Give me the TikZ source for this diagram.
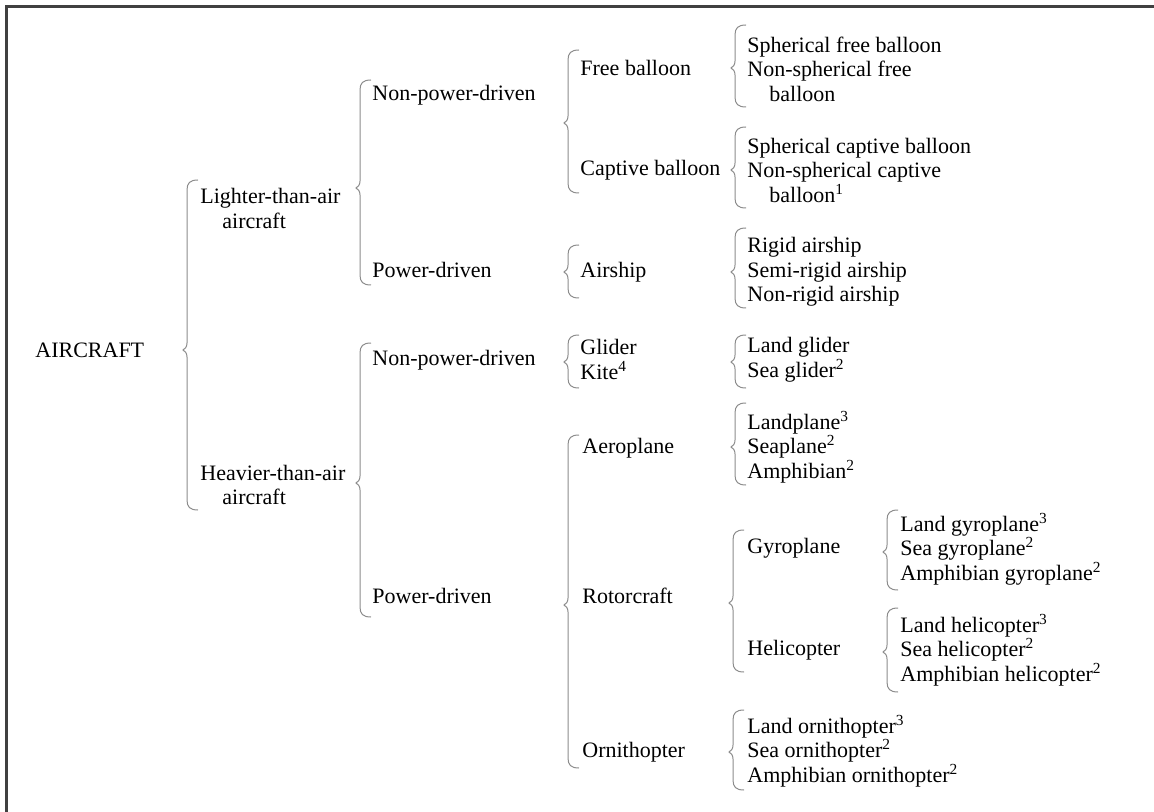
\documentclass[tikz,border=0pt]{standalone}
\usepackage{fontspec}
\setmainfont{Liberation Serif}
\usetikzlibrary{positioning}

% curly brace: x of stem, top, tip, bottom (pixel units, y downwards)
\newcommand{\brc}[4]{%
  \draw[bracket] (#1+11,#2) .. controls (#1+3,#2) and (#1,#2+3) .. (#1,#2+10)
    -- (#1,#3-7) .. controls (#1,#3-3) and (#1-2,#3-1) .. (#1-4,#3)
    .. controls (#1-2,#3+1) and (#1,#3+3) .. (#1,#3+7)
    -- (#1,#4-10) .. controls (#1,#4-3) and (#1+3,#4) .. (#1+11,#4);}

\begin{document}
\begin{tikzpicture}[
    x=0.5pt, y=-0.5pt,
    group/.style={
      anchor=west,
      inner sep=0pt,
      align=left,
      font=\fontsize{11}{12.25}\selectfont
    },
    item/.style={
      group,
      text height=7.5pt,
      text depth=2.4pt
    },
    bracket/.style={
      draw=black!45,
      line width=0.5pt
    },
    frame/.style={
      draw=black!75,
      line width=1.5pt
    }
  ]
    \useasboundingbox (0,0) rectangle (1154,812);

    % --- Frame (only top and left edges show)
    \draw[frame] (6.5,812) -- (6.5,6.5) -- (1154,6.5);

    % --- Root and first level
    \node[item] (aircraft) at (35,352) {AIRCRAFT};
    \node[group] (lighter) at (200,208.5) {Lighter-than-air\\\hspace*{1em}aircraft};
    \node[group] (heavier) at (200,485) {Heavier-than-air\\\hspace*{1em}aircraft};

    % --- Second level
    \node[item] (lnonpow) at (372,95) {Non-power-driven};
    \node[item] (lpow) at (372,272) {Power-driven};
    \node[item] (hnonpow) at (372,360) {Non-power-driven};
    \node[item] (hpow) at (372,598) {Power-driven};

    % --- Third level
    \node[item] (free) at (580,70) {Free balloon};
    \node[item] (captive) at (580,170) {Captive balloon};
    \node[item] (airship) at (580,272) {Airship};
    \node[group] (glider) at (580,359.5) {Glider\\Kite\textsuperscript{4}};
    \node[item] (aeroplane) at (582,448) {Aeroplane};
    \node[item] (rotorcraft) at (582,598) {Rotorcraft};
    \node[item] (ornithopter) at (582,752) {Ornithopter};

    % --- Leaves
    \node[group] (freekinds) at (747,69) {Spherical free balloon\\Non-spherical free\\\hspace*{1em}balloon};
    \node[group] (captkinds) at (747,170) {Spherical captive balloon\\Non-spherical captive\\\hspace*{1em}balloon\textsuperscript{1}};
    \node[group] (shipkinds) at (747,272) {Rigid airship\\Semi-rigid airship\\Non-rigid airship};
    \node[group] (glidkinds) at (747,359.5) {Land glider\\Sea glider\textsuperscript{2}};
    \node[group] (aerokinds) at (747,447) {Landplane\textsuperscript{3}\\Seaplane\textsuperscript{2}\\Amphibian\textsuperscript{2}};
    \node[item] (gyroplane) at (747,548) {Gyroplane};
    \node[item] (helicopter) at (747,650) {Helicopter};
    \node[group] (ornikinds) at (747,751) {Land ornithopter\textsuperscript{3}\\Sea ornithopter\textsuperscript{2}\\Amphibian ornithopter\textsuperscript{2}};
    \node[group] (gyrokinds) at (900,549) {Land gyroplane\textsuperscript{3}\\Sea gyroplane\textsuperscript{2}\\Amphibian gyroplane\textsuperscript{2}};
    \node[group] (helikinds) at (900,650) {Land helicopter\textsuperscript{3}\\Sea helicopter\textsuperscript{2}\\Amphibian helicopter\textsuperscript{2}};

    % --- Braces
    \brc{187}{180}{350}{510}
    \brc{360}{80}{188}{285}
    \brc{360}{343}{483}{617}
    \brc{568}{50}{123}{193}
    \brc{568}{245}{272}{298}
    \brc{568}{335}{362}{388}
    \brc{568}{435}{605}{768}
    \brc{735}{25}{68}{107}
    \brc{735}{127}{170}{208}
    \brc{735}{228}{272}{308}
    \brc{735}{335}{362}{388}
    \brc{735}{403}{447}{485}
    \brc{733}{530}{603}{672}
    \brc{733}{710}{752}{790}
    \brc{887}{510}{552}{590}
    \brc{887}{608}{652}{692}

  \end{tikzpicture}
\end{document}
